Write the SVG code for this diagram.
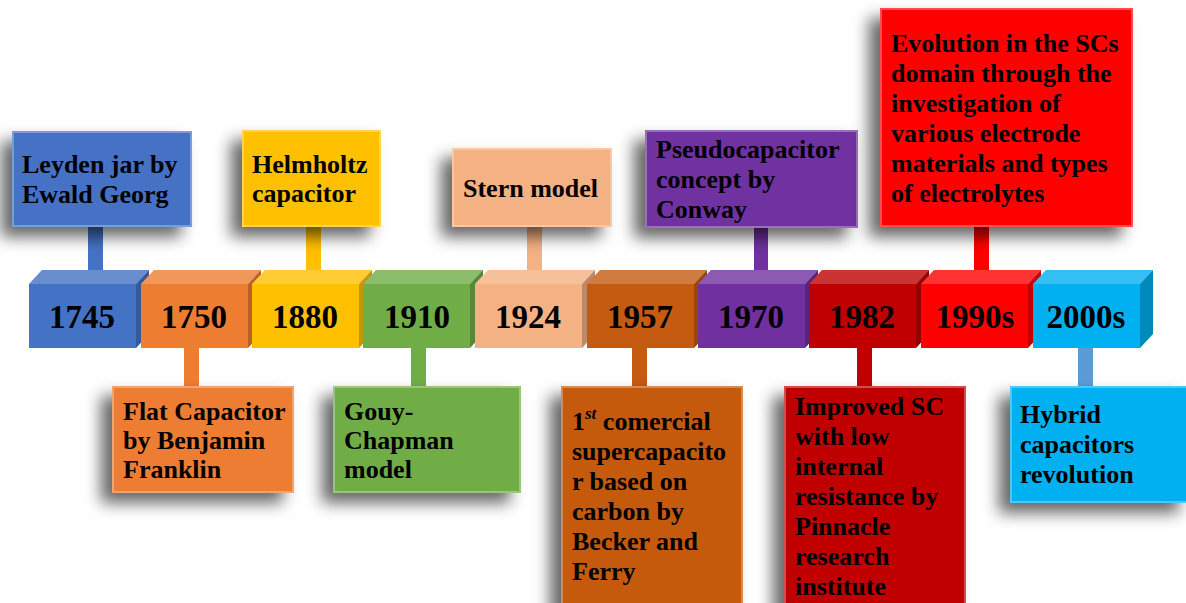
<svg xmlns="http://www.w3.org/2000/svg" xmlns:xlink="http://www.w3.org/1999/xlink" width="1186" height="603" viewBox="0 0 1186 603">
<style>
text{font-family:"Liberation Serif","DejaVu Serif",serif;font-weight:bold;fill:#000}
.yr{font-size:33px;text-anchor:middle}
.lb{font-size:26px}
.hl{fill:#fff;fill-opacity:.2}
.dk{fill:#000;fill-opacity:.22}
.edge{fill:none;stroke:#fff;stroke-opacity:.3;stroke-width:2}
.box{filter:url(#sh)}
</style>
<defs>
<filter id="sh" x="-30%" y="-30%" width="160%" height="170%">
<feGaussianBlur in="SourceAlpha" stdDeviation="8"/>
<feOffset dx="-11" dy="10" result="b"/>
<feFlood flood-color="#000" flood-opacity=".6"/>
<feComposite in2="b" operator="in"/>
<feMerge><feMergeNode/><feMergeNode in="SourceGraphic"/></feMerge>
</filter>
<g id="cube">
<polygon points="0,284 13,270 120,270 107,284" fill="currentColor"/>
<polygon class="hl" points="0,284 13,270 120,270 107,284"/>
<polygon points="107,284 120,270 120,334 107,348" fill="currentColor"/>
<polygon class="dk" points="107,284 120,270 120,334 107,348"/>
<rect x="0" y="284" width="107" height="64" fill="currentColor"/>
</g>
</defs>
<rect width="1186" height="603" fill="#fff"/>

<g id="connectors">
<rect x="88" y="227" width="15" height="44" fill="#4472C4"/>
<rect x="306" y="227" width="15" height="44" fill="#FFC000"/>
<rect x="527" y="227" width="15" height="44" fill="#F4B183"/>
<rect x="754" y="228" width="14" height="43" fill="#7030A0"/>
<rect x="974" y="227" width="15" height="44" fill="#FF0000"/>
<rect x="184" y="347" width="15" height="40" fill="#ED7D31"/>
<rect x="411" y="347" width="15" height="40" fill="#70AD47"/>
<rect x="632" y="347" width="15" height="40" fill="#C55A11"/>
<rect x="857" y="347" width="15" height="40" fill="#C00000"/>
<rect x="1078" y="347" width="15" height="40" fill="#5B9BD5"/>
</g>

<g id="timeline">
<g id="y1745"><use xlink:href="#cube" x="29" style="color:#4472C4"/><text class="yr" x="82" y="328">1745</text></g>
<g id="y1750"><use xlink:href="#cube" x="141" style="color:#ED7D31"/><text class="yr" x="194" y="328">1750</text></g>
<g id="y1880"><use xlink:href="#cube" x="252" style="color:#FFC000"/><text class="yr" x="305" y="328">1880</text></g>
<g id="y1910"><use xlink:href="#cube" x="363" style="color:#70AD47"/><text class="yr" x="417" y="328">1910</text></g>
<g id="y1924"><use xlink:href="#cube" x="475" style="color:#F4B183"/><text class="yr" x="528" y="328">1924</text></g>
<g id="y1957"><use xlink:href="#cube" x="587" style="color:#C55A11"/><text class="yr" x="640" y="328">1957</text></g>
<g id="y1970"><use xlink:href="#cube" x="698" style="color:#7030A0"/><text class="yr" x="751" y="328">1970</text></g>
<g id="y1982"><use xlink:href="#cube" x="809" style="color:#C00000"/><text class="yr" x="862" y="328">1982</text></g>
<g id="y1990s"><use xlink:href="#cube" x="921" style="color:#FF0000"/><text class="yr" x="975" y="328">1990s</text></g>
<g id="y2000s"><use xlink:href="#cube" x="1033" style="color:#00B0F0"/><text class="yr" x="1086" y="328">2000s</text></g>
</g>

<g id="n-leyden">
<rect class="box" x="12" y="131" width="180" height="96" fill="#4472C4"/>
<rect class="edge" x="13" y="132" width="178" height="94"/>
<text class="lb"><tspan x="22" y="173">Leyden jar by</tspan><tspan x="22" y="203">Ewald Georg</tspan></text>
</g>
<g id="n-helmholtz">
<rect class="box" x="242" y="130" width="139" height="97" fill="#FFC000"/>
<rect class="edge" x="243" y="131" width="137" height="95"/>
<text class="lb"><tspan x="252" y="173">Helmholtz</tspan><tspan x="252" y="202">capacitor</tspan></text>
</g>
<g id="n-stern">
<rect class="box" x="452" y="148" width="160" height="79" fill="#F4B183"/>
<rect class="edge" x="453" y="149" width="158" height="77"/>
<text class="lb" x="463" y="197">Stern model</text>
</g>
<g id="n-pseudo">
<rect class="box" x="645" y="130" width="213" height="98" fill="#7030A0"/>
<rect class="edge" x="646" y="131" width="211" height="96"/>
<text class="lb"><tspan x="656" y="158">Pseudocapacitor</tspan><tspan x="656" y="188">concept by</tspan><tspan x="656" y="218">Conway</tspan></text>
</g>
<g id="n-evolution">
<rect class="box" x="880" y="8" width="253" height="219" fill="#FF0000"/>
<rect class="edge" x="881" y="9" width="251" height="217"/>
<text class="lb"><tspan x="891" y="52">Evolution in the SCs</tspan><tspan x="891" y="82">domain through the</tspan><tspan x="891" y="112">investigation of</tspan><tspan x="891" y="142">various electrode</tspan><tspan x="891" y="172">materials and types</tspan><tspan x="891" y="202">of electrolytes</tspan></text>
</g>

<g id="n-flat">
<rect class="box" x="112" y="386" width="182" height="107" fill="#ED7D31"/>
<rect class="edge" x="113" y="387" width="180" height="105"/>
<text class="lb"><tspan x="123" y="420">Flat Capacitor</tspan><tspan x="123" y="449">by Benjamin</tspan><tspan x="123" y="478">Franklin</tspan></text>
</g>
<g id="n-gouy">
<rect class="box" x="333" y="386" width="188" height="107" fill="#70AD47"/>
<rect class="edge" x="334" y="387" width="186" height="105"/>
<text class="lb"><tspan x="344" y="420">Gouy-</tspan><tspan x="344" y="449">Chapman</tspan><tspan x="344" y="478">model</tspan></text>
</g>
<g id="n-commercial">
<rect class="box" x="561" y="386" width="182" height="230" fill="#C55A11"/>
<rect class="edge" x="562" y="387" width="180" height="228"/>
<text class="lb"><tspan x="572" y="430">1</tspan><tspan font-size="17" font-style="italic" dy="-11">st</tspan><tspan dy="11"> comercial</tspan><tspan x="572" y="460">supercapacito</tspan><tspan x="572" y="490">r based on</tspan><tspan x="572" y="520">carbon by</tspan><tspan x="572" y="550">Becker and</tspan><tspan x="572" y="580">Ferry</tspan></text>
</g>
<g id="n-improved">
<rect class="box" x="784" y="386" width="182" height="230" fill="#C00000"/>
<rect class="edge" x="785" y="387" width="180" height="228"/>
<text class="lb"><tspan x="795" y="415">Improved SC</tspan><tspan x="795" y="445">with low</tspan><tspan x="795" y="475">internal</tspan><tspan x="795" y="505">resistance by</tspan><tspan x="795" y="535">Pinnacle</tspan><tspan x="795" y="565">research</tspan><tspan x="795" y="595">institute</tspan></text>
</g>
<g id="n-hybrid">
<rect class="box" x="1010" y="386" width="180" height="117" fill="#00B0F0"/>
<rect class="edge" x="1011" y="387" width="178" height="115"/>
<text class="lb"><tspan x="1020" y="423">Hybrid</tspan><tspan x="1020" y="453">capacitors</tspan><tspan x="1020" y="483">revolution</tspan></text>
</g>
</svg>
